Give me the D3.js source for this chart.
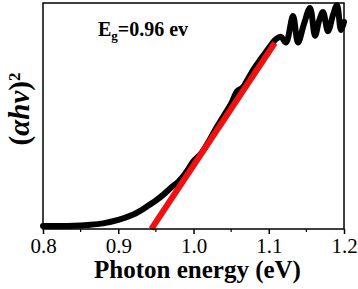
<!DOCTYPE html>
<html>
<head>
<script src="https://d3js.org/d3.v7.min.js"></script>
<style>
  body { margin: 0; background: #fff; }
  text { font-family: "Liberation Serif", "Times New Roman", serif; }
</style>
</head>
<body>
<script>
// photon energy (eV) and (ahv)^2 in arbitrary units
const energy = [0.80, 0.82, 0.84, 0.86, 0.88, 0.90, 0.92, 0.93, 0.94, 0.95, 0.96, 0.97, 0.98, 0.99,
  1.00, 1.01, 1.02, 1.03, 1.04, 1.05, 1.058, 1.065, 1.07, 1.08, 1.09, 1.10,
  1.1096, 1.1163, 1.1229, 1.1322, 1.1389, 1.1468, 1.1548, 1.1615, 1.1668, 1.1721, 1.1787,
  1.1854, 1.1907, 1.196, 1.2];
const absorb = [1.3, 1.3, 1.4, 1.8, 2.5, 4.0, 6.4, 8.2, 10.4, 12.6, 15.2, 18.3, 21.0, 25.0,
  30.0, 33.4, 38.6, 44.6, 50.0, 55.4, 61.0, 62.5, 65.0, 70.8, 75.5, 80.1,
  84.0, 85.0, 82.5, 94.2, 82.5, 90.7, 97.8, 85.5, 92.0, 96.0, 87.5,
  94.7, 99.0, 88.0, 91.6];
// linear fit (Tauc extrapolation)
const fitE = [0.944, 1.108];
const fitV = [0, 82.3];
const xTicks = [0.8, 0.9, 1.0, 1.1, 1.2];
const xMinor = [0.85, 0.95, 1.05, 1.15];

const margin = {top: 3, right: 14, bottom: 60, left: 43},
    width = 358 - margin.left - margin.right,
    height = 289 - margin.top - margin.bottom;

const svg = d3.select("body")
  .append("svg")
    .attr("width", 358)
    .attr("height", 289)
  .append("g")
    .attr("transform", `translate(${margin.left},${margin.top})`);

const x = d3.scaleLinear().domain([0.8, 1.2]).range([0, width]);
const y = d3.scaleLinear().domain([0, 100]).range([height, 0]);

// data curve
svg.append("path")
  .datum(energy.map((e, i) => [e, absorb[i]]))
  .attr("fill", "none")
  .attr("stroke", "#000")
  .attr("stroke-width", 6)
  .attr("stroke-linejoin", "round")
  .attr("stroke-linecap", "round")
  .attr("d", d3.line().x(d => x(d[0])).y(d => y(d[1])).curve(d3.curveCatmullRom));

// fit line
svg.append("path")
  .datum(fitE.map((e, i) => [e, fitV[i]]))
  .attr("fill", "none")
  .attr("stroke", "#f01010")
  .attr("stroke-width", 6)
  .attr("d", d3.line().x(d => x(d[0])).y(d => y(d[1])));

// frame
svg.append("rect")
  .attr("width", width).attr("height", height)
  .attr("fill", "none").attr("stroke", "#000").attr("stroke-width", 1.5);

// bottom axis
const ax = svg.append("g")
  .attr("transform", `translate(0,${height})`)
  .call(d3.axisBottom(x).tickValues(xTicks).tickFormat(d3.format(".1f")).tickSize(5).tickPadding(4));
ax.select(".domain").remove();
ax.selectAll("line").attr("stroke-width", 1.5);
ax.selectAll("text").attr("font-size", 21).attr("font-family", "Liberation Serif").attr("fill", "#000");

svg.append("g")
  .attr("transform", `translate(0,${height})`)
  .selectAll("line")
  .data(xMinor)
  .enter()
  .append("line")
    .attr("x1", d => x(d)).attr("x2", d => x(d))
    .attr("y1", 0).attr("y2", 3)
    .attr("stroke", "#000").attr("stroke-width", 1.2);

// axis titles
svg.append("text")
  .attr("x", width / 2 + 4)
  .attr("y", height + 49)
  .attr("text-anchor", "middle")
  .attr("font-size", 25)
  .attr("font-weight", "bold")
  .text("Photon energy (eV)");

const yt = svg.append("text")
  .attr("transform", `translate(${-14},${106}) rotate(-90)`)
  .attr("text-anchor", "middle")
  .attr("font-size", 29)
  .attr("font-weight", "bold");
yt.append("tspan").text("(");
yt.append("tspan").attr("font-style", "italic").text("\u03b1hv");
yt.append("tspan").text(")");
yt.append("tspan").attr("font-size", 17).attr("dy", -9).text("2");

// band gap annotation
const ann = svg.append("text")
  .attr("x", 55)
  .attr("y", 33)
  .attr("font-size", 20)
  .attr("font-weight", "bold");
ann.append("tspan").text("E");
ann.append("tspan").attr("font-size", 13).attr("dy", 4).text("g");
ann.append("tspan").attr("dy", -4).text("=0.96 ev");
</script>
</body>
</html>
